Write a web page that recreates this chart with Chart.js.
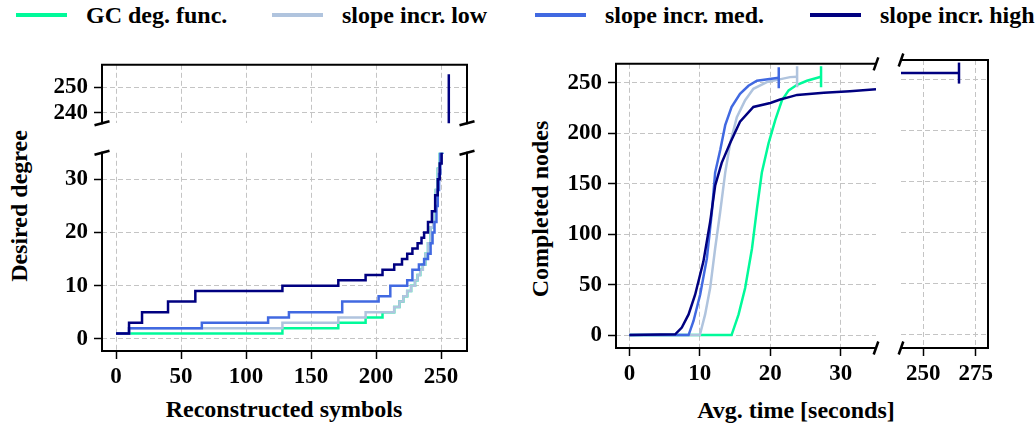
<!DOCTYPE html>
<html>
<head>
<meta charset="utf-8">
<script src="https://cdn.jsdelivr.net/npm/chart.js@4.4.1/dist/chart.umd.min.js"></script>
<style>
  html, body { margin: 0; padding: 0; background: #fff; }
  body {
    width: 1036px; height: 430px; position: relative; overflow: hidden;
    font-family: "Liberation Serif", "Times New Roman", serif; font-weight: bold; color: #000;
  }
  .box { position: absolute; }
  .txt { position: absolute; font-size: 24px; line-height: 1; white-space: nowrap; }
  .mid { transform: translate(-50%, -50%); }
  .rot { transform: translate(-50%, -50%) rotate(-90deg); }
  .swatch { position: absolute; width: 51px; height: 3.5px; }
</style>
</head>
<body>
<div id="legend"></div>
<div class="txt rot" style="left:19px; top:206px;">Desired degree</div>
<div class="txt mid" style="left:284px; top:409px;">Reconstructed symbols</div>
<div class="txt rot" style="left:540px; top:209px;">Completed nodes</div>
<div class="txt mid" style="left:796px; top:410px;">Avg. time [seconds]</div>

<div class="box" id="boxA"><canvas></canvas></div>
<div class="box" id="boxB"><canvas></canvas></div>
<div class="box" id="boxC"><canvas></canvas></div>
<div class="box" id="boxD"><canvas></canvas></div>

<script>
const seriesNames = ["GC deg. func.", "slope incr. low", "slope incr. med.", "slope incr. high"];
const seriesColors = ["#00fa9a", "#b0c4de", "#4169e1", "#000080"];

// left panel: desired degree vs reconstructed symbols (value holds until the next change)
const symbolsGC   = [0, 128, 171, 192, 205, 214, 218, 221, 224, 227, 230, 232, 234, 236, 238, 240, 242, 244, 246, 247.5, 249, 251, 253, 256];
const degreeGC    = [1, 2, 3, 4, 5, 6, 7, 8, 9, 10, 11, 12, 13, 14, 16, 18, 21, 24, 28, 32, 35, 40, 45, 48];
const symbolsLow  = [0, 10, 128, 171, 192, 214, 218, 221, 224, 227, 230, 232, 234, 236, 238, 240, 242, 244, 246, 247.5, 249, 251, 253, 256];
const degreeLow   = [1, 2, 3, 4, 5, 6, 7, 8, 9, 10, 11, 12, 13, 14, 16, 18, 21, 24, 28, 32, 35, 40, 45, 50];
const symbolsMed  = [0, 10, 66, 117, 133, 174, 202, 211, 224, 228, 233, 237, 240, 242, 243.5, 245, 246.5, 247.5, 248.5, 249.5, 251, 253, 256];
const degreeMed   = [1, 2, 3, 4, 5, 7, 8, 10, 11, 13, 14, 15, 16, 18, 20, 22, 25, 28, 31, 35, 40, 48, 60];
const symbolsHigh = [0, 10, 20, 40, 61, 128, 171, 192, 205, 214, 220, 224, 228, 232, 235, 237, 240, 243, 245.5, 247.5, 249, 250.5, 252, 254, 256];
const degreeHigh  = [1, 3, 5, 7, 9, 10, 11, 12, 13, 14, 15, 16, 17, 18, 19, 20, 22, 24, 27, 30, 33, 38, 50, 100, 255];

// right panel: completed nodes vs average time
const timeGC    = [0, 14.5, 15.5, 16.43, 17.4, 18.1, 18.8, 19.75, 20.7, 21.65, 22.6, 23.8, 25.2, 27.2];
const nodesGC   = [0, 0, 20.5, 46.6, 85.8, 125, 161, 190, 213, 232.7, 242.5, 248, 252, 256];
const timeLow   = [0, 10, 10.75, 11.46, 12.17, 12.88, 13.6, 14.3, 15.25, 16.43, 17.6, 19.5, 22.8, 23.8];
const nodesLow  = [0, 0, 20.5, 46.6, 85.8, 121.7, 161, 190, 216, 232.7, 244, 250.7, 255.6, 256];
const timeMed   = [0, 8.4, 9.1, 10.04, 11, 11.7, 12.17, 12.9, 13.6, 14.5, 15.7, 16.9, 18.1, 21.2];
const nodesMed  = [0, 0, 14, 40, 76, 121.7, 161, 183.7, 208, 226, 239, 247, 252, 255];
const timeHigh  = [0, 6.5, 7.44, 8.4, 9.33, 10.5, 11.46, 12.17, 13.1, 14.3, 15.7, 17.6, 20, 21.4, 22.8, 23.8, 27.6, 31.3, 35, 236, 267];
const nodesHigh = [0, 0.8, 7.5, 20.5, 40, 72.8, 112, 148, 170.7, 190.3, 211.5, 226, 230, 233.4, 236, 238, 240, 241.5, 243.5, 256, 256];

const symbolTicks = [0, 50, 100, 150, 200, 250];
const degreeTicksLow = [0, 10, 20, 30];
const degreeTicksHigh = [240, 250];
const timeTicksNear = [0, 10, 20, 30];
const timeTicksFar = [250, 275];
const nodeTicks = [0, 50, 100, 150, 200, 250];

Chart.defaults.font.family = '"Liberation Serif", "Times New Roman", serif';
Chart.defaults.font.size = 23;
Chart.defaults.font.weight = "bold";
Chart.defaults.color = "#000";

const PAD = 16;

// spines + diagonal break marks
const framePlugin = {
  id: "frame",
  afterDraw(chart, args, opts) {
    const { ctx, chartArea: a } = chart;
    const edge = { t: a.top, b: a.bottom, l: a.left, r: a.right };
    ctx.save();
    ctx.strokeStyle = "#000";
    ctx.lineWidth = 2;
    ctx.lineCap = "square";
    ctx.beginPath();
    if (opts.sides.includes("t")) { ctx.moveTo(a.left, a.top); ctx.lineTo(a.right, a.top); }
    if (opts.sides.includes("b")) { ctx.moveTo(a.left, a.bottom); ctx.lineTo(a.right, a.bottom); }
    if (opts.sides.includes("l")) { ctx.moveTo(a.left, a.top); ctx.lineTo(a.left, a.bottom); }
    if (opts.sides.includes("r")) { ctx.moveTo(a.right, a.top); ctx.lineTo(a.right, a.bottom); }
    ctx.stroke();

    ctx.lineWidth = 2.5;
    ctx.lineCap = "butt";
    const [dx, dy] = opts.markSize;
    ctx.beginPath();
    opts.marks.forEach((m) => {
      const x = edge[m[1]], y = edge[m[0]];
      ctx.moveTo(x - dx, y + dy);
      ctx.lineTo(x + dx, y - dy);
    });
    ctx.stroke();
    ctx.restore();
  },
};

function axis(s, size, dir) {
  return {
    type: "linear",
    position: dir === "x" ? "bottom" : "left",
    min: s.min,
    max: s.max,
    bounds: "data",
    afterBuildTicks: (sc) => { sc.ticks = s.ticks.map((v) => ({ value: v })); },
    afterFit: (sc) => { if (dir === "x") sc.height = size; else sc.width = size; },
    ticks: {
      display: s.labels,
      autoSkip: false,
      maxRotation: 0,
      padding: dir === "x" ? 4 : 6,
      callback: (v) => String(v),
    },
    grid: {
      color: "#c4c4c4",
      lineWidth: 1,
      drawTicks: s.labels,
      tickLength: 8,
      tickColor: "#000",
      tickWidth: 1.5,
    },
    border: { display: false, dash: [5, 3] },
  };
}

function buildChart(id, spec) {
  const [l, t, r, b] = spec.area;
  const box = document.getElementById(id);
  const canvas = box.querySelector("canvas");
  const w = r - l + spec.yW + 2 * PAD;
  const h = b - t + spec.xH + 2 * PAD;
  box.style.left = (l - spec.yW - PAD) + "px";
  box.style.top = (t - PAD) + "px";
  canvas.width = w;
  canvas.height = h;
  canvas.style.width = w + "px";
  canvas.style.height = h + "px";
  return new Chart(canvas, {
    type: "line",
    data: { datasets: spec.datasets },
    options: {
      responsive: false,
      animation: false,
      devicePixelRatio: 1,
      layout: { padding: PAD },
      plugins: { legend: { display: false }, tooltip: { enabled: false }, frame: spec.frame },
      scales: { x: axis(spec.x, spec.xH, "x"), y: axis(spec.y, spec.yW, "y") },
    },
    plugins: [framePlugin],
  });
}

function series(xs, ys, i, extra) {
  return Object.assign({
    label: seriesNames[i],
    data: xs.map((x, k) => ({ x, y: ys[k] })),
    borderColor: seriesColors[i],
    backgroundColor: seriesColors[i],
    borderWidth: 2.5,
    pointRadius: 0,
    fill: false,
    order: 3 - i,
  }, extra);
}

function leftSets() {
  const step = { stepped: true };
  return [
    series(symbolsGC, degreeGC, 0, step),
    series(symbolsLow, degreeLow, 1, step),
    series(symbolsMed, degreeMed, 2, step),
    series(symbolsHigh, degreeHigh, 3, step),
  ];
}

function rightSets() {
  const capped = (xs, i) => ({
    tension: 0,
    pointStyle: "line",
    pointRotation: 90,
    pointRadius: (ctx) => (ctx.dataIndex === xs.length - 1 ? 10.5 : 0),
    pointBorderWidth: 2.5,
    pointBorderColor: seriesColors[i],
  });
  return [
    series(timeGC, nodesGC, 0, capped(timeGC, 0)),
    series(timeLow, nodesLow, 1, capped(timeLow, 1)),
    series(timeMed, nodesMed, 2, capped(timeMed, 2)),
    series(timeHigh, nodesHigh, 3, capped(timeHigh, 3)),
  ];
}

function renderLegend() {
  const legend = document.getElementById("legend");
  const lineX = [16, 272, 535, 810];
  legend.innerHTML = seriesNames
    .map((name, i) => `
      <div class="swatch" style="left:${lineX[i]}px; top:13px; background:${seriesColors[i]};"></div>
      <div class="txt" style="left:${lineX[i] + 70}px; top:15.3px; transform:translateY(-50%);">${name}</div>
    `)
    .join("");
}

renderLegend();

// left panel, upper part (broken y axis)
buildChart("boxA", {
  area: [102, 61, 467, 127], yW: 75, xH: 0,
  datasets: leftSets(),
  x: { min: -10.8, max: 270, ticks: symbolTicks, labels: false },
  y: { min: 236, max: 258.7, ticks: degreeTicksHigh, labels: true },
  frame: { sides: "tlr", marks: ["bl", "br"], markSize: [7.5, 2] },
});

// left panel, lower part
buildChart("boxB", {
  area: [102, 149, 467, 351], yW: 75, xH: 45,
  datasets: leftSets(),
  x: { min: -10.8, max: 270, ticks: symbolTicks, labels: true },
  y: { min: -2.3, max: 35, ticks: degreeTicksLow, labels: true },
  frame: { sides: "lbr", marks: ["tl", "tr"], markSize: [7.5, 2] },
});

// right panel, near part (broken x axis)
buildChart("boxC", {
  area: [616, 60, 876, 348], yW: 75, xH: 45,
  datasets: rightSets(),
  x: { min: -1.9, max: 35, ticks: timeTicksNear, labels: true },
  y: { min: -12.8, max: 268.8, ticks: nodeTicks, labels: true },
  frame: { sides: "tlb", marks: ["tr", "br"], markSize: [2.3, 6.5] },
});

// right panel, far part
buildChart("boxD", {
  area: [901, 60, 988, 348], yW: 0, xH: 45,
  datasets: rightSets(),
  x: { min: 239.4, max: 280.8, ticks: timeTicksFar, labels: true },
  y: { min: -12.8, max: 268.8, ticks: nodeTicks, labels: false },
  frame: { sides: "trb", marks: ["tl", "bl"], markSize: [2.3, 6.5] },
});
</script>
</body>
</html>
